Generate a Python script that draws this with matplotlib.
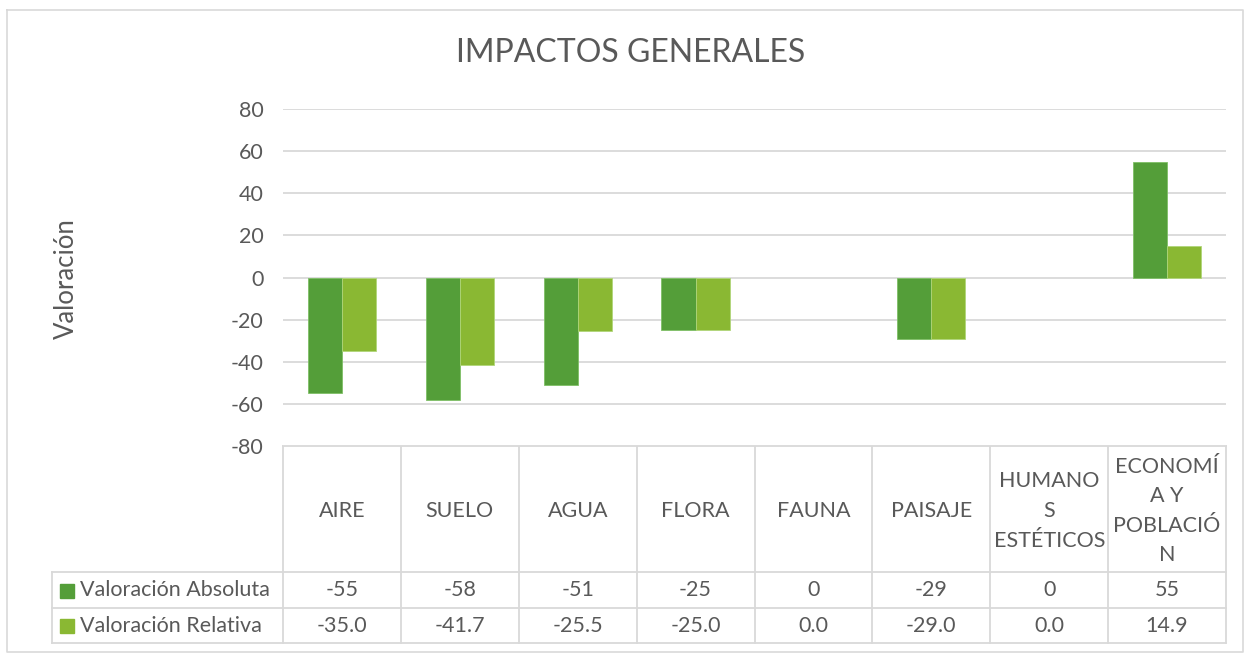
import matplotlib
matplotlib.use("Agg")
import matplotlib.pyplot as plt
import numpy as np

categorias = ["AIRE", "SUELO", "AGUA", "FLORA", "FAUNA", "PAISAJE",
              "HUMANO\nS\nESTÉTICOS", "ECONOMÍ\nA Y\nPOBLACIÓ\nN"]
absoluta = [-55, -58, -51, -25, 0, -29, 0, 55]
relativa = [-35.0, -41.7, -25.5, -25.0, 0.0, -29.0, 0.0, 14.9]
series = ["Valoración Absoluta", "Valoración Relativa"]
colores = ["#549E39", "#8AB833"]

plt.rcParams['font.family'] = ['Lato', 'DejaVu Sans']
plt.rcParams['axes.unicode_minus'] = False
txt = "#595959"
grid = "#D9D9D9"
fs = 15.5

W, H = 1246, 655
fig = plt.figure(figsize=(W / 100, H / 100), dpi=100)

# pixel layout
x0, x1 = 283, 1226
ytop, ybot = 109, 446
ax = fig.add_axes([x0 / W, 1 - ybot / H, (x1 - x0) / W, (ybot - ytop) / H])

n = len(categorias)
x = np.arange(n)
bw = 0.29
lw_a = [0 if v == 0 else 0.6 for v in absoluta]
lw_r = [0 if v == 0 else 0.6 for v in relativa]
ax.bar(x - bw / 2, absoluta, bw, color=colores[0], edgecolor="#7FBF66", linewidth=lw_a, zorder=3)
ax.bar(x + bw / 2, relativa, bw, color=colores[1], edgecolor="#B0D67A", linewidth=lw_r, zorder=3)
ax.set_xlim(-0.5, n - 0.5)
ax.set_ylim(-80, 80)
ax.set_yticks(range(-80, 81, 20))
ax.yaxis.grid(True, color=grid, linewidth=1.3, zorder=0)
ax.set_xticks([])
for s in ax.spines.values():
    s.set_visible(False)
ax.tick_params(axis="y", length=0, labelsize=fs, labelcolor=txt, pad=14)

# overlay in pixel coordinates for the table, frame, title
ov = fig.add_axes([0, 0, 1, 1], zorder=-1)
ov.set_xlim(0, W)
ov.set_ylim(H, 0)
ov.axis("off")

# chart frame
ov.plot([7, 1243, 1243, 7, 7], [10, 10, 652, 652, 10], color=grid, lw=1.2)

ov.text(631, 53, "IMPACTOS GENERALES", ha="center", va="center", fontsize=23, color=txt)
ov.text(66, 279, "Valoración", ha="center", va="center", rotation=90, fontsize=18.5, color=txt)

colw = (x1 - x0) / n
ycat_bot, yr1, yr2 = 572, 608, 643
lx = 52
lc = grid
lw = 1.3
# vertical lines
for i in range(n + 1):
    xx = x0 + i * colw
    ov.plot([xx, xx], [ybot, yr2], color=lc, lw=lw)
ov.plot([lx, lx], [ycat_bot, yr2], color=lc, lw=lw)
# horizontal lines
ov.plot([x0, x1], [ybot, ybot], color=lc, lw=lw)
for yy in (ycat_bot, yr1, yr2):
    ov.plot([lx, x1], [yy, yy], color=lc, lw=lw)

for i, c in enumerate(categorias):
    cx = x0 + (i + 0.5) * colw
    ov.text(cx, (ybot + ycat_bot) / 2 + 2, c, ha="center", va="center", fontsize=fs,
            color=txt, linespacing=1.6)
    ov.text(cx, (ycat_bot + yr1) / 2, f"{absoluta[i]:.0f}", ha="center", va="center",
            fontsize=fs, color=txt)
    ov.text(cx, (yr1 + yr2) / 2, f"{relativa[i]:.1f}", ha="center", va="center",
            fontsize=fs, color=txt)

for j, (name, col) in enumerate(zip(series, colores)):
    yc = (ycat_bot + yr1) / 2 if j == 0 else (yr1 + yr2) / 2
    ov.add_patch(plt.Rectangle((60, yc - 6.5), 14, 14, color=col))
    ov.text(80, yc, name, ha="left", va="center", fontsize=fs, color=txt)

fig.savefig("out.png", dpi=100)
